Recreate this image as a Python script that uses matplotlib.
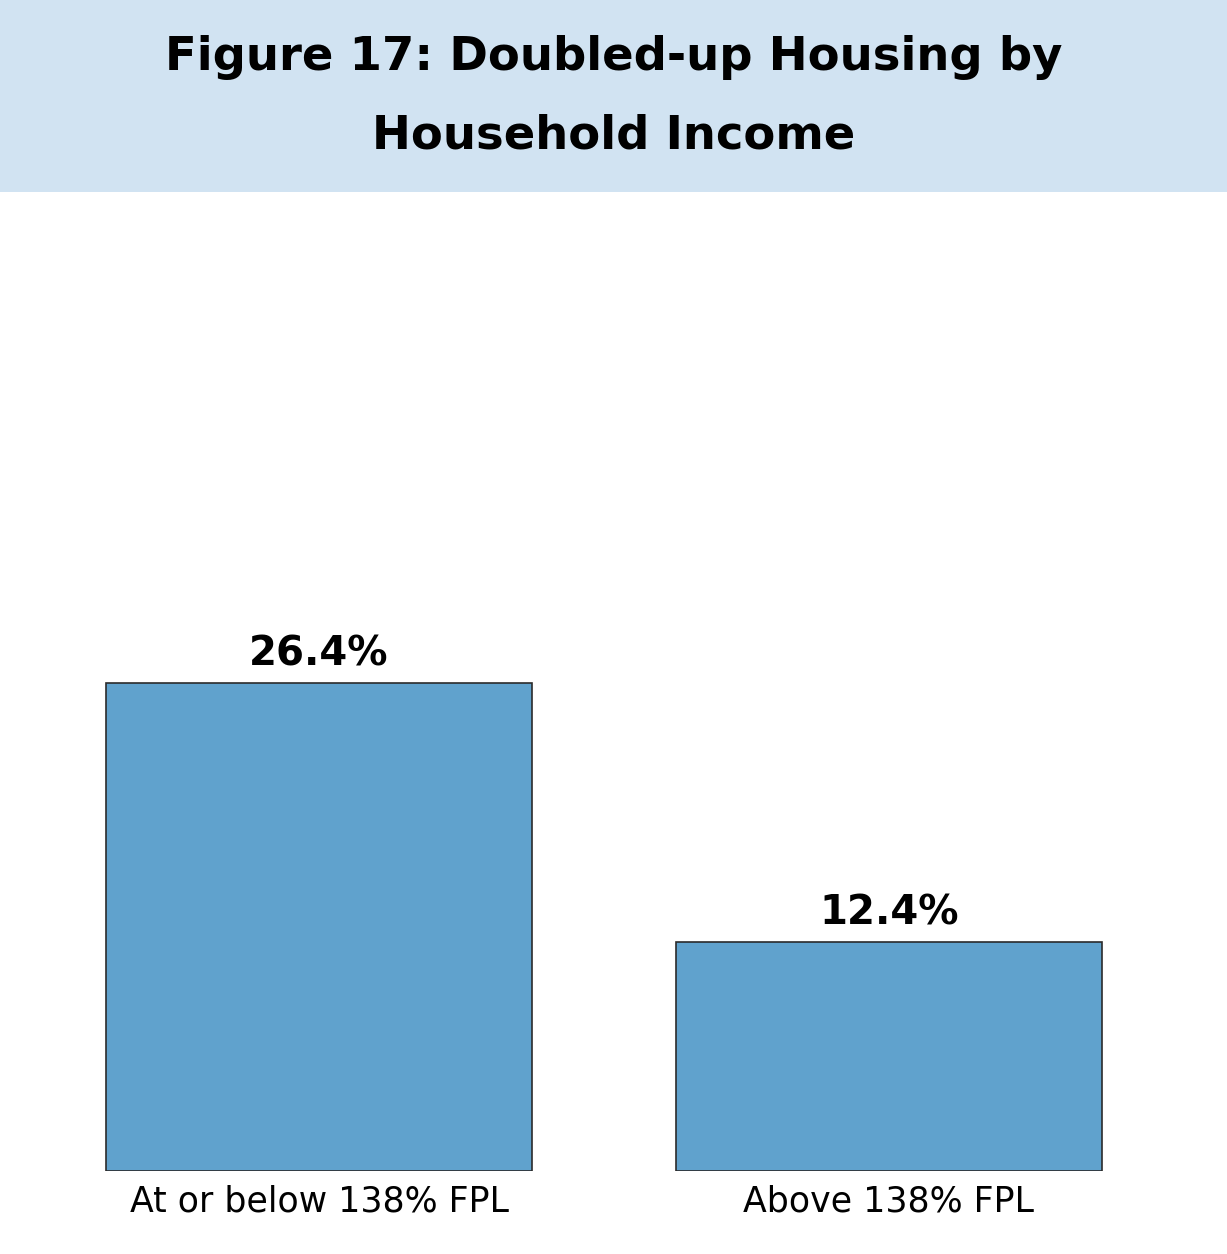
import matplotlib
matplotlib.use('Agg')
import matplotlib.pyplot as plt
from matplotlib.patches import Rectangle

categories = ['At or below 138% FPL', 'Above 138% FPL']
values = [26.4, 12.4]
value_labels = ['26.4%', '12.4%']
title_text = 'Figure 17: Doubled-up Housing by\nHousehold Income'

W, H = 1227, 1254
fig = plt.figure(figsize=(W / 100, H / 100), dpi=100)

# title band
fig.patches.append(Rectangle((0, 1 - 192 / H), 1, 192 / H, transform=fig.transFigure,
                             facecolor='#D1E3F2', edgecolor='none', zorder=0))
fig.text(0.5, 1 - 97 / H, title_text, ha='center', va='center', fontsize=33.5,
         fontweight='bold', family='DejaVu Sans', linespacing=1.95)

ax = fig.add_axes([30 / W, 1 - 1171 / H, (1175 - 30) / W, (1171 - 200) / H])
x = range(len(categories))
ax.bar(x, values, width=0.747, color='#60A2CD', edgecolor='#2b2b2b', linewidth=1.2)
for xi, v, lab in zip(x, values, value_labels):
    ax.text(xi, v + 0.45, lab, ha='center', va='bottom', fontsize=29, fontweight='bold')

ax.set_xlim(-0.507, 1.502)
ax.set_ylim(0, 52.5)
ax.set_xticks(list(x))
ax.set_xticklabels(categories, fontsize=25)
ax.tick_params(axis='x', length=0, pad=10)
ax.set_yticks([])
for s in ax.spines.values():
    s.set_visible(False)

fig.savefig('out.png', dpi=100)
